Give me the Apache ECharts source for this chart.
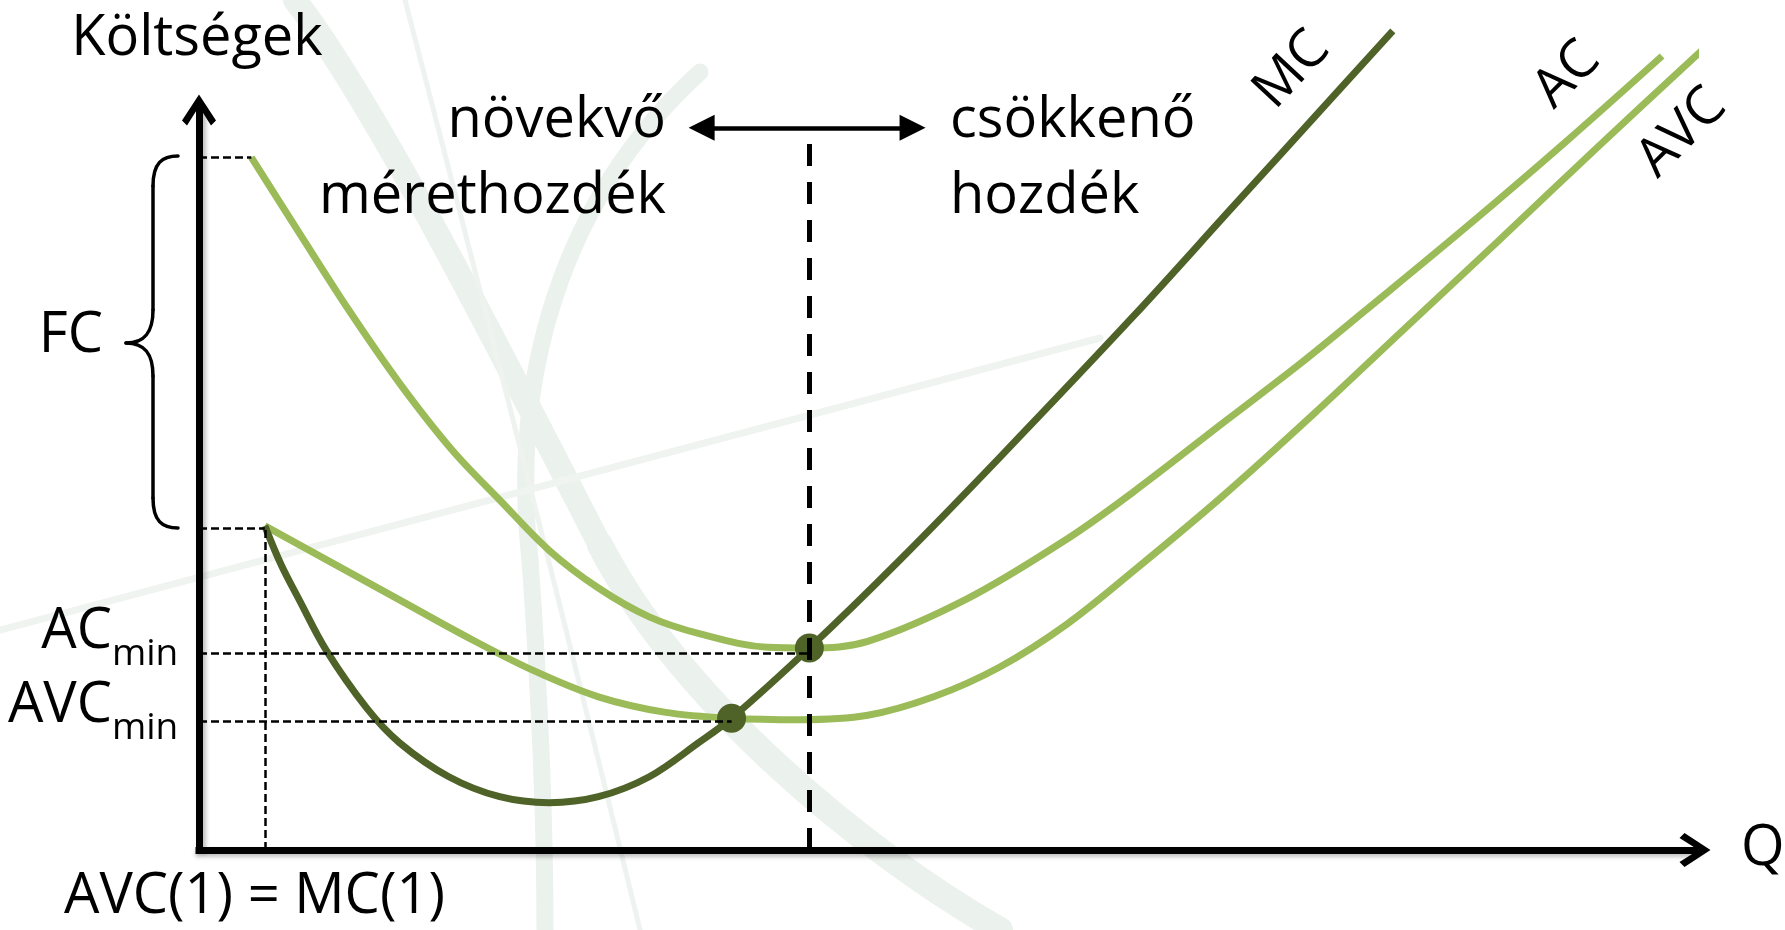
<!DOCTYPE html>
<html>
<head>
<meta charset="utf-8">
<title>Költségek</title>
<script src="https://cdn.jsdelivr.net/npm/echarts@6/dist/echarts.min.js"></script>
<style>
  html, body { margin: 0; padding: 0; background: #fff; }
  #chart { width: 1785px; height: 930px; }
</style>
</head>
<body>
<div id="chart"></div>
<script>
// values, both axes in units 0..100
const mcQ = [4.4, 5.5, 6.7, 8.5, 11.2, 13.4, 16.7, 20.1, 23.4, 26.7, 30.1, 33.4, 35.6, 40.8, 46.9, 53.5, 62.4, 69.1, 75.8, 79.8]
const mcCost = [43.8, 38.5, 33.8, 27.0, 19.2, 14.5, 9.9, 7.2, 6.4, 7.2, 9.9, 14.5, 17.8, 27.3, 39.3, 53.0, 72.0, 86.9, 101.8, 110.7]

const acQ = [3.5, 6.7, 10.0, 13.4, 16.9, 20.1, 23.4, 26.7, 30.1, 33.5, 38.0, 40.8, 44.7, 51.3, 58.0, 62.4, 68.7, 73.6, 77.9, 84.6, 91.3, 97.8]
const acCost = [93.6, 83.4, 73.0, 63.1, 54.1, 47.3, 40.5, 35.4, 31.5, 29.2, 27.4, 27.3, 28.2, 33.9, 42.0, 48.3, 58.1, 65.7, 72.8, 84.0, 95.6, 107.3]

const avcQ = [4.4, 8.9, 13.4, 17.9, 22.3, 26.7, 31.2, 35.6, 40.2, 44.7, 49.1, 53.5, 58.0, 62.4, 68.3, 74.5, 80.3, 86.8, 93.5, 100.9]
const avcCost = [43.8, 38.8, 33.8, 28.8, 24.3, 20.7, 18.6, 17.8, 17.6, 18.2, 20.7, 24.7, 30.5, 37.6, 47.6, 58.9, 69.9, 82.2, 95.0, 108.9]

// AVC min and AC min, where MC crosses them
const dotQ = [35.6, 40.8]
const dotCost = [17.8, 27.3]

// guide levels
const fcLevel = 93.6
const fcBase = 43.5
const acMinLevel = 26.6
const avcMinLevel = 17.4
const qOne = 4.4
const qOptimal = 40.8
const rangeArrowY = 97.6
const rangeArrowQ = [33.6, 47.7]

const curveNames = ['MC', 'AC', 'AVC']

const dark = '#4f6228'
const light = '#9bbb59'
const wm = '#ebf1ed'
const font = '"Open Sans", "Noto Sans", sans-serif'

const zip = (xs, ys) => xs.map((x, i) => [x, ys[i]])

const chevron = 'path://M17,0 L34,26 L29,31 L17,12 L5,31 L0,26 Z'

const thin = { color: '#000', width: 2.5, type: [8, 4] }

function txt(text, x, y, opts = {}) {
  return {
    type: 'text',
    x,
    y,
    z: 50,
    rotation: opts.rotation || 0,
    style: {
      text,
      fill: '#000',
      fontFamily: font,
      fontSize: opts.size || 56,
      align: opts.align || 'left',
      verticalAlign: 'middle',
    },
  }
}

function bez(p, width, color, z) {
  return {
    type: 'bezierCurve',
    z,
    silent: true,
    shape: { x1: p[0], y1: p[1], cpx1: p[2], cpy1: p[3], cpx2: p[4], cpy2: p[5], x2: p[6], y2: p[7] },
    style: { fill: 'none', stroke: color, lineWidth: width, lineCap: 'round' },
  }
}

function seg(p, width, color, z) {
  return {
    type: 'line',
    z,
    silent: true,
    shape: { x1: p[0], y1: p[1], x2: p[2], y2: p[3] },
    style: { stroke: color, lineWidth: width, lineCap: 'round' },
  }
}

const chart = echarts.init(document.getElementById('chart'))

const option = {
  animation: false,
  backgroundColor: '#fff',
  grid: { left: 199, right: 90, top: 110, bottom: 80, containLabel: false },
  xAxis: {
    type: 'value',
    min: 0,
    max: 100,
    z: 5,
    axisLine: {
      show: true,
      symbol: ['none', chevron],
      symbolSize: [34, 31],
      lineStyle: { color: '#000', width: 7, cap: 'square', shadowColor: 'rgba(0,0,0,0.25)', shadowBlur: 4, shadowOffsetY: 3 },
    },
    axisTick: { show: false },
    axisLabel: { show: false },
    splitLine: { show: false },
  },
  yAxis: {
    type: 'value',
    min: 0,
    max: 100,
    z: 5,
    axisLine: {
      show: true,
      symbol: ['none', chevron],
      symbolSize: [34, 31],
      lineStyle: { color: '#000', width: 7, cap: 'square', shadowColor: 'rgba(0,0,0,0.25)', shadowBlur: 4, shadowOffsetX: 3 },
    },
    axisTick: { show: false },
    axisLabel: { show: false },
    splitLine: { show: false },
  },
  series: [
    {
      // dashed guides
      type: 'line',
      data: [],
      z: 1,
      markLine: {
        silent: true,
        symbol: 'none',
        label: { show: false },
        data: [
          [{ coord: [0, fcLevel], lineStyle: thin }, { coord: [acQ[0], fcLevel] }],
          [{ coord: [0, fcBase], lineStyle: thin }, { coord: [qOne, fcBase] }],
          [{ coord: [0, acMinLevel], lineStyle: thin }, { coord: [dotQ[1], acMinLevel] }],
          [{ coord: [0, avcMinLevel], lineStyle: thin }, { coord: [dotQ[0], avcMinLevel] }],
          [{ coord: [qOne, 0], lineStyle: thin }, { coord: [qOne, fcBase] }],
          [
            { coord: [qOptimal, 0], lineStyle: { color: '#000', width: 5, type: [22, 16] } },
            { coord: [qOptimal, 97.0] },
          ],
        ],
      },
    },
    {
      type: 'line',
      data: [],
      z: 3,
      markLine: {
        silent: true,
        symbol: ['triangle', 'triangle'],
        symbolSize: 26,
        label: { show: false },
        lineStyle: { color: '#000', width: 4.5, type: 'solid' },
        data: [[{ coord: [rangeArrowQ[0], rangeArrowY] }, { coord: [rangeArrowQ[1], rangeArrowY] }]],
      },
    },
    {
      name: curveNames[1],
      type: 'line',
      data: zip(acQ, acCost),
      smooth: 0.35,
      clip: false,
      showSymbol: false,
      z: 2,
      lineStyle: { color: light, width: 7 },
    },
    {
      name: curveNames[2],
      type: 'line',
      data: zip(avcQ, avcCost),
      smooth: 0.35,
      clip: false,
      showSymbol: false,
      z: 2,
      lineStyle: { color: light, width: 7 },
    },
    {
      name: curveNames[0],
      type: 'line',
      data: zip(mcQ, mcCost),
      smooth: 0.35,
      clip: false,
      showSymbol: false,
      z: 3,
      lineStyle: { color: dark, width: 7 },
    },
    {
      type: 'scatter',
      data: zip(dotQ, dotCost),
      symbolSize: 29,
      z: 4,
      itemStyle: { color: dark, opacity: 1 },
    },
  ],
  graphic: [
    // faint watermark swooshes
    bez([295, 0, 380, 110, 520, 390, 600, 545], 24, wm, -10),
    bez([600, 545, 680, 700, 860, 850, 1000, 930], 26, wm, -10),
    bez([700, 72, 560, 200, 510, 380, 530, 560], 17, wm, -10),
    bez([530, 560, 540, 700, 545, 820, 545, 930], 17, wm, -10),
    bez([405, 0, 470, 250, 560, 600, 640, 930], 5, '#eef3f0', -10),
    seg([0, 630, 1100, 338], 7, '#f0f4f1', -10),
    // brace for FC
    bez([178, 156, 162, 156, 153, 163, 153, 186], 3.5, '#000', 50),
    seg([153, 186, 153, 310], 3.5, '#000', 50),
    bez([153, 310, 153, 332, 145, 343, 126, 343], 3.5, '#000', 50),
    bez([126, 343, 145, 343, 153, 354, 153, 376], 3.5, '#000', 50),
    seg([153, 376, 153, 498], 3.5, '#000', 50),
    bez([153, 498, 153, 521, 162, 528, 178, 528], 3.5, '#000', 50),
    txt('Költségek', 197, 39, { align: 'center' }),
    txt('Q', 1741, 849),
    txt('FC', 103, 336, { align: 'right' }),
    txt('AC', 112, 632, { align: 'right' }),
    txt('min', 112, 654, { size: 37 }),
    txt('AVC', 112, 706, { align: 'right' }),
    txt('min', 112, 728, { size: 37 }),
    txt('AVC(1) = MC(1)', 64, 897),
    txt('növekvő', 666, 121, { align: 'right' }),
    txt('mérethozdék', 666, 197, { align: 'right' }),
    txt('csökkenő', 950, 121),
    txt('hozdék', 950, 197),
    txt(curveNames[0], 1292, 70, { align: 'center', rotation: 47 * Math.PI / 180, size: 54 }),
    txt(curveNames[1], 1567, 75, { align: 'center', rotation: 45 * Math.PI / 180, size: 54 }),
    txt(curveNames[2], 1682, 133, { align: 'center', rotation: 45 * Math.PI / 180, size: 54 }),
  ],
}

chart.setOption(option)

window.addEventListener('resize', () => chart.resize())
</script>
</body>
</html>
